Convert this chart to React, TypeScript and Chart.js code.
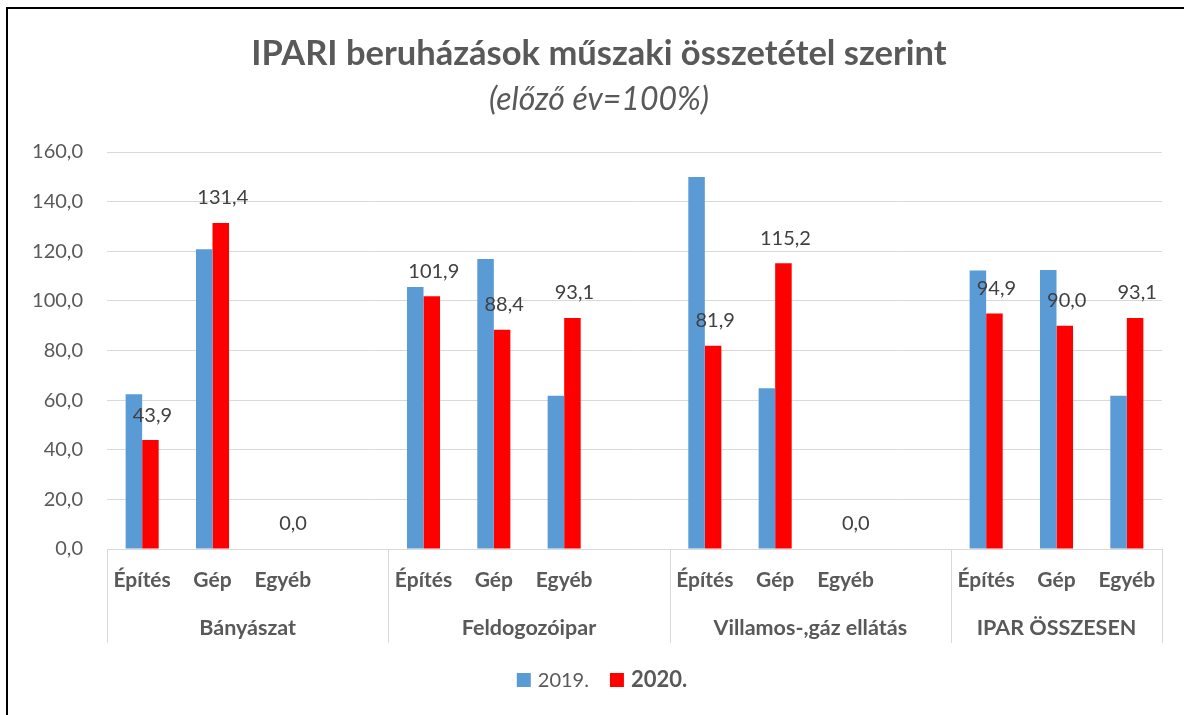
import React, { useEffect, useRef } from "react";
import { Chart, registerables } from "chart.js";

Chart.register(...registerables);

const categories = [
  "Építés", "Gép", "Egyéb", "",
  "Építés", "Gép", "Egyéb", "",
  "Építés", "Gép", "Egyéb", "",
  "Építés", "Gép", "Egyéb",
];
const groupLabels = ["Bányászat", "Feldogozóipar", "Villamos-,gáz ellátás", "IPAR ÖSSZESEN"];
const groupStart = [0, 4, 8, 12];
const groupEnd = [3, 7, 11, 14];

const values2019 = [
  62.4, 120.8, 0, null,
  105.6, 116.9, 61.8, null,
  149.9, 64.8, 0, null,
  112.2, 112.4, 61.8,
];
const values2020 = [
  43.9, 131.4, 0.0, null,
  101.9, 88.4, 93.1, null,
  81.9, 115.2, 0.0, null,
  94.9, 90.0, 93.1,
];
const seriesNames = ["2019.", "2020."];
const yTicks = [0, 20, 40, 60, 80, 100, 120, 140, 160];

const TITLE = "IPARI beruházások műszaki összetétel szerint";
const SUBTITLE = "(előző év=100%)";
const FONT = "Lato, 'Open Sans', sans-serif";
const TEXT = "#595959";
const BLUE = "#5B9BD5";
const RED = "#FF0000";
const GRID = "#D9D9D9";

const fmt = (v: number) => v.toFixed(1).replace(".", ",");

const drawPlugin = {
  id: "customDraw",
  beforeDraw(chart: any) {
    const ctx = chart.ctx;
    ctx.save();
    ctx.fillStyle = "#ffffff";
    ctx.fillRect(0, 0, chart.width, chart.height);
    ctx.restore();
  },
  afterDraw(chart: any) {
    const ctx = chart.ctx;
    const xs = chart.scales.x;
    const area = chart.chartArea;
    ctx.save();

    // outer border
    ctx.strokeStyle = "#000";
    ctx.lineWidth = 2;
    ctx.strokeRect(7, 8, chart.width + 20, chart.height + 20);

    // title
    ctx.fillStyle = TEXT;
    ctx.textAlign = "center";
    ctx.textBaseline = "alphabetic";
    ctx.font = `bold 34.5px ${FONT}`;
    ctx.fillText(TITLE, 599, 65);
    ctx.font = `italic 32px ${FONT}`;
    ctx.fillText(SUBTITLE, 599, 110);

    // data labels (2020)
    const meta = chart.getDatasetMeta(1);
    ctx.font = `20px ${FONT}`;
    ctx.fillStyle = "#404040";
    meta.data.forEach((bar: any, i: number) => {
      const v = values2020[i];
      if (v === null || v === undefined) return;
      ctx.textBaseline = "middle";
      ctx.fillText(fmt(v), bar.x + 2, bar.y - 25);
    });

    // category labels
    ctx.fillStyle = TEXT;
    ctx.textBaseline = "alphabetic";
    ctx.font = `bold 21px ${FONT}`;
    categories.forEach((c, i) => {
      if (!c) return;
      ctx.fillText(c, xs.getPixelForValue(i), 587);
    });

    // separators and group labels
    const half = (xs.getPixelForValue(1) - xs.getPixelForValue(0)) / 2;
    ctx.strokeStyle = GRID;
    ctx.lineWidth = 1;
    const bounds: number[] = [];
    groupStart.forEach((s) => bounds.push(xs.getPixelForValue(s) - half));
    bounds.push(area.right);
    bounds.forEach((bx) => {
      const px = Math.round(bx) + 0.5;
      ctx.beginPath();
      ctx.moveTo(px, area.bottom);
      ctx.lineTo(px, area.bottom + 94);
      ctx.stroke();
    });
    ctx.font = `bold 21.5px ${FONT}`;
    groupLabels.forEach((g, k) => {
      const l = xs.getPixelForValue(groupStart[k]) - half;
      const r = k === groupLabels.length - 1 ? area.right : xs.getPixelForValue(groupEnd[k]) + half;
      ctx.fillText(g, (l + r) / 2, 635);
    });

    // legend
    const fonts = [`20px ${FONT}`, `bold 22px ${FONT}`];
    const colors = [BLUE, RED];
    const box = 14, gap = 7, itemGap = 21;
    let total = 0;
    const widths = seriesNames.map((n, i) => {
      ctx.font = fonts[i];
      return ctx.measureText(n).width;
    });
    widths.forEach((w, i) => { total += box + gap + w + (i < widths.length - 1 ? itemGap : 0); });
    let x = 602 - total / 2;
    seriesNames.forEach((n, i) => {
      ctx.fillStyle = colors[i];
      ctx.fillRect(x, 673, box, box);
      x += box + gap;
      ctx.font = fonts[i];
      ctx.fillStyle = TEXT;
      ctx.textAlign = "left";
      ctx.fillText(n, x, 687);
      x += widths[i] + itemGap;
    });

    ctx.restore();
  },
};

export default function App() {
  const ref = useRef<HTMLCanvasElement | null>(null);
  useEffect(() => {
    if (!ref.current) return;
    const chart = new Chart(ref.current, {
      type: "bar",
      data: {
        labels: categories,
        datasets: [
          { label: seriesNames[0], data: values2019 as any, backgroundColor: BLUE, borderWidth: 0 },
          { label: seriesNames[1], data: values2020 as any, backgroundColor: RED, borderWidth: 0 },
        ],
      },
      options: {
        responsive: false,
        animation: false,
        devicePixelRatio: 1,
        layout: { padding: { left: 0, right: 22, top: 152, bottom: 0 } },
        datasets: { bar: { categoryPercentage: 0.47, barPercentage: 1 } },
        plugins: {
          legend: { display: false },
          title: { display: false },
          tooltip: { enabled: false },
        },
        scales: {
          x: {
            grid: { display: false },
            border: { display: false },
            ticks: { display: false },
            afterFit: (s: any) => { s.height = 166; },
          },
          y: {
            min: 0,
            max: 160,
            afterBuildTicks: (s: any) => { s.ticks = yTicks.map((v) => ({ value: v })); },
            grid: { color: GRID, lineWidth: 1, drawTicks: false },
            border: { display: false },
            ticks: {
              padding: 24,
              color: TEXT,
              font: { family: FONT, size: 20 },
              callback: (v: any) => fmt(Number(v)),
            },
            afterFit: (s: any) => { s.width = 107; },
          },
        },
      },
      plugins: [drawPlugin],
    });
    return () => chart.destroy();
  }, []);
  return (
    <div style={{ position: "absolute", left: 0, top: 0, width: 1184, height: 715 }}>
      <canvas ref={ref} width={1184} height={715} style={{ display: "block" }} />
    </div>
  );
}
